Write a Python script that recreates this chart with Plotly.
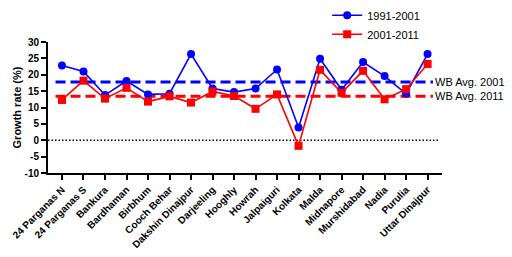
import plotly.graph_objects as go

districts = ["24 Parganas N", "24 Parganas S", "Bankura", "Bardhaman", "Birbhum",
             "Cooch Behar", "Dakshin Dinajpur", "Darjeeling", "Hooghly", "Howrah",
             "Jalpaiguri", "Kolkata", "Malda", "Midnapore", "Murshidabad", "Nadia",
             "Purulia", "Uttar Dinajpur"]
growth_1991_2001 = [22.8, 21.0, 13.8, 18.1, 14.0, 14.2, 26.3, 15.8, 14.7, 15.8,
                    21.6, 3.9, 24.9, 15.4, 23.9, 19.6, 14.2, 26.3]
growth_2001_2011 = [12.3, 18.2, 12.7, 16.0, 11.8, 13.4, 11.5, 14.9, 13.5, 9.6,
                    14.0, -1.7, 21.5, 14.5, 21.2, 12.5, 15.6, 23.3]
wb_avg_2001 = 17.8
wb_avg_2011 = 13.4
y_ticks = [-10, -5, 0, 5, 10, 15, 20, 25, 30]

blue = "#0000ff"
red = "#ff0000"
xs = list(range(len(districts)))

fig = go.Figure()
fig.add_trace(go.Scatter(x=xs, y=growth_1991_2001, mode="lines+markers", name="1991-2001",
                         line=dict(color=blue, width=1.6),
                         marker=dict(symbol="circle", size=8, color=blue)))
fig.add_trace(go.Scatter(x=xs, y=growth_2001_2011, mode="lines+markers", name="2001-2011",
                         line=dict(color=red, width=1.6),
                         marker=dict(symbol="square", size=8, color=red)))

x0, x1 = -0.3, 17.25
fig.add_shape(type="line", xref="x", yref="y", x0=x0, x1=x1, y0=wb_avg_2001, y1=wb_avg_2001,
              line=dict(color=blue, width=3, dash="10px,5px"), layer="below")
fig.add_shape(type="line", xref="x", yref="y", x0=x0, x1=x1, y0=wb_avg_2011, y1=wb_avg_2011,
              line=dict(color=red, width=3, dash="10px,5px"), layer="below")
fig.add_shape(type="line", xref="x", yref="y", x0=-0.65, x1=17.5, y0=0, y1=0,
              line=dict(color="black", width=1.5, dash="1.5px,2px"), layer="below")

fig.add_annotation(x=x1, y=wb_avg_2001, xref="x", yref="y", text="WB Avg. 2001",
                   showarrow=False, xanchor="left", xshift=0,
                   font=dict(family="Liberation Sans, Arial", size=11, color="black"))
fig.add_annotation(x=x1, y=wb_avg_2011, xref="x", yref="y", text="WB Avg. 2011",
                   showarrow=False, xanchor="left", xshift=0,
                   font=dict(family="Liberation Sans, Arial", size=11, color="black"))

fig.update_layout(
    width=512, height=257,
    margin=dict(l=48, r=70, t=42, b=84, autoexpand=False),
    paper_bgcolor="white", plot_bgcolor="white",
    font=dict(family="Liberation Sans, Arial", color="black"),
    showlegend=True,
    legend=dict(xref="container", yref="container", x=0.639, y=0.997,
                xanchor="left", yanchor="top",
                font=dict(size=11, family="Liberation Sans, Arial"),
                bgcolor="rgba(0,0,0,0)", tracegroupgap=0, itemwidth=30),
    xaxis=dict(range=[-0.65, 17.67], tickmode="array", tickvals=xs,
               ticktext=["<b>%s</b>" % d for d in districts], tickangle=-45,
               showline=True, linecolor="black", linewidth=2,
               ticks="outside", ticklen=5, tickwidth=2, tickcolor="black",
               showgrid=False, zeroline=False, automargin=False,
               tickfont=dict(size=10, family="Liberation Sans, Arial")),
    yaxis=dict(range=[-10, 30], tickmode="array", tickvals=y_ticks,
               ticktext=["<b>%d</b>" % v for v in y_ticks],
               showline=True, linecolor="black", linewidth=2,
               ticks="outside", ticklen=5, tickwidth=2, tickcolor="black",
               showgrid=False, zeroline=False, automargin=False,
               tickfont=dict(size=10, family="Liberation Sans, Arial"),
               title=dict(text="<b>Growth rate (%)</b>", font=dict(size=11), standoff=1)),
)

fig.write_html("out.html")
